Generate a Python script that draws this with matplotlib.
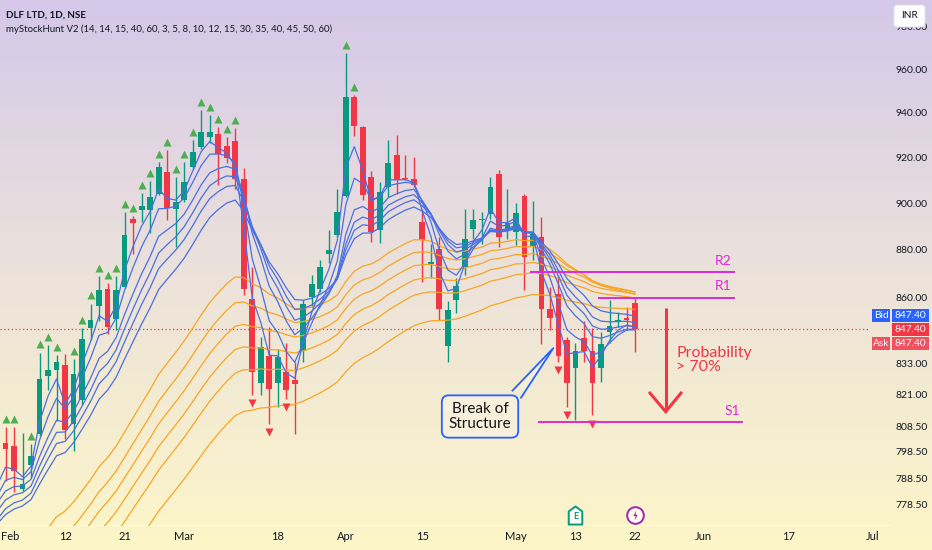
import numpy as np
import pandas as pd
import matplotlib
matplotlib.use("Agg")
import matplotlib.pyplot as plt
from matplotlib.transforms import offset_copy, blended_transform_factory, IdentityTransform
from matplotlib.patches import Rectangle, FancyBboxPatch, Polygon
from matplotlib.path import Path

plt.rcParams['font.family'] = ['Lato', 'DejaVu Sans']

# ---------------- data (bar index -1 .. 74; index 0 = 1 Feb 2024) ----------------
opens = [789, 802.5, 801, 784.7, 793.8, 805.8, 828.5, 830.8, 832.8, 809.7, 819, 847.8, 856.8, 864.2, 851.7,
         865, 893.8, 897.4, 897.4, 904.6, 914.2, 897.7, 901.7, 916.1, 924.9, 929.7, 931, 925.5, 928, 910.8,
         859.7, 825.7, 836.8, 825.7, 830, 827, 838.8, 860.7, 864.2, 878.5, 886.7, 903.6, 947.7, 934, 912,
         889.1, 907.6, 921.7, 911.5, 911, 892.4, 874.5, 880.9, 840.8, 859.6, 873, 889.4, 893.1, 895.9, 913.2,
         888.4, 888.1, 903.5, 881.9, 885.7, 855.9, 861.8, 842.9, 831.9, 843.9, 838.8, 831.9, 846.2, 850.3,
         852.1, 858.2]
highs = [806, 808.5, 808.5, 806, 802, 838, 841, 836.9, 837.6, 835.5, 848, 858, 869.5, 866.6, 869.5, 896.7,
         894.8, 904.9, 910.2, 918.6, 923.7, 912, 918.6, 928.4, 941.7, 939.4, 934.2, 929.7, 933.5, 915.7, 873.2,
         844.3, 848.4, 839.5, 841.8, 834.2, 859.3, 869.9, 876, 888.8, 906.8, 967.8, 948.7, 934.5, 914.6, 909.5,
         928.4, 930.5, 921.5, 920.7, 898.1, 883.1, 886, 859, 868.4, 898.1, 898.1, 896.6, 912, 915, 906.8, 900.5,
         904.6, 901.4, 894.5, 864.9, 869.9, 844.3, 841.8, 851, 847.8, 846.2, 859.3, 854.5, 856.5, 860.7]
lows = [787, 787.6, 783.5, 784, 789, 805, 823, 811, 804, 799.3, 817, 843, 851, 845.6, 847, 864.5, 878.8,
        892.4, 887.7, 904, 893, 881.6, 901, 915.5, 924, 926.7, 908.3, 917.9, 906.8, 861.4, 821, 821, 809.7,
        816.3, 819.6, 805.8, 834.2, 856.5, 862.8, 875, 886, 903, 930.2, 901.7, 883.8, 883.5, 903.2, 904.6,
        910.5, 907.6, 867, 868.4, 851.3, 834.2, 854.1, 869.7, 885.2, 883.1, 893.8, 881.6, 885.2, 882.3, 863.5,
        876, 841.5, 847, 834.2, 816.3, 811.3, 834.2, 813, 826.1, 841.8, 848.4, 847, 838.1]
closes = [802.5, 800, 791.5, 786.6, 797.4, 827.5, 830.8, 834.2, 807.4, 829.2, 843.6, 851.3, 863.5, 848.4,
          863.5, 886.7, 892.1, 899.2, 902.9, 916.4, 898.5, 901, 909.8, 923, 931.7, 932, 922.2, 920, 910.8,
          864.2, 830.2, 840.4, 823.5, 836.4, 823, 825.5, 857.6, 866, 873.2, 880.5, 896.6, 947.7, 934.5, 904.2,
          888.1, 905.3, 917.9, 910.5, 910.8, 908.3, 884.5, 875.5, 855.9, 855.4, 865.2, 885.2, 893.1, 893.8,
          907.6, 886, 892, 896.2, 877.6, 887.1, 855.9, 852.1, 836.5, 825.7, 838.5, 838.8, 825.7, 841.5, 848.8,
          851.3, 851.3, 847.4]
bar_index = list(range(-1, 75))

# moving-average ribbons: periods from the legend, start values read at the left edge
fast_periods = [3, 5, 8, 10, 12, 15]
fast_start = [786, 782, 779.4, 776.3, 773.2, 771.6]
slow_periods = [30, 35, 40, 45, 50, 60]
slow_start = [752, 742, 736, 729, 721, 709]

signal_up = [0, 1, 3, 4, 5, 6, 8, 9, 10, 11, 12, 13, 14, 15, 16, 17, 18, 19, 20, 21, 22, 23, 24, 25, 26, 27, 40, 41]
signal_down = [29, 31, 33, 65, 66, 69]

last_price = 847.40
levels = {"R2": 871.0, "R1": 860.1, "S1": 810.3}

price_ticks = [980, 960, 940, 920, 900, 880, 860, 833, 821, 808.5, 798.5, 788.5, 778.5]
date_ticks = [0, 7, 14, 21, 32, 40, 49, 60, 67, 74, 82, 92, 102]
date_labels = ["Feb", "12", "21", "Mar", "18", "Apr", "15", "May", "13", "22", "Jun", "17", "Jul"]

# ---------------- figure ----------------
W, H = 932, 550
fig = plt.figure(figsize=(W / 100, H / 100), dpi=100)

bg = fig.add_axes([0, 0, 1, 1], zorder=0)
stops = np.array([[213, 200, 233], [236, 226, 219], [253, 246, 199]]) / 255.0
pos = np.linspace(0, 1, H)
grad = np.stack([np.interp(pos, [0, 0.5, 1], stops[:, k]) for k in range(3)], axis=1)
grad = np.repeat(grad[:, None, :], 4, axis=1)
bg.imshow(grad, aspect='auto', extent=[0, 1, 0, 1])
bg.axis('off')

ax = fig.add_axes([0, 24 / H, 891 / W, 526 / H], zorder=1)
ax.patch.set_alpha(0)
ax.set_yscale('log')
for s in ax.spines.values():
    s.set_visible(False)

GREEN = '#089981'
RED = '#f23645'
BLUE = '#4a6fe3'
ORANGE = '#f6a623'
MAG = '#dc2ad8'

# current price dotted line
ax.axhline(last_price, xmin=0, xmax=870 / 891, color=RED, lw=0.9, ls=(0, (1, 2)), zorder=1)

# candles
for xi, o, h, l, c in zip(bar_index, opens, highs, lows, closes):
    col = GREEN if c >= o else RED
    ax.vlines(xi, l, h, color=col, lw=1.0, zorder=2)
    ax.bar(xi, max(abs(c - o), 0.45), bottom=min(o, c), width=0.68, color=col, lw=0, zorder=3)

# EMA ribbons
def ema(start, span):
    s = pd.Series([start] + closes[1:])
    return s.ewm(span=span, adjust=False).mean().to_numpy()

for p, st in zip(slow_periods, slow_start):
    ax.plot(bar_index, ema(st, p), color=ORANGE, lw=0.9, zorder=4)
for p, st in zip(fast_periods, fast_start):
    ax.plot(bar_index, ema(st, p), color=BLUE, lw=0.9, zorder=4)

# signal triangles
tr_up = offset_copy(ax.transData, fig=fig, x=0, y=5.8, units='points')
tr_dn = offset_copy(ax.transData, fig=fig, x=0, y=-5.8, units='points')
ax.plot(signal_up, [highs[i + 1] for i in signal_up], '^', color='#4caf50', ms=5.5, mec='none',
        transform=tr_up, zorder=5)
ax.plot(signal_down, [lows[i + 1] for i in signal_down], 'v', color=RED, ms=5.5, mec='none',
        transform=tr_dn, zorder=5)

# levels
ax.hlines(levels["R2"], 61.65, 85.75, color=MAG, lw=1.4, zorder=6)
ax.hlines(levels["R1"], 69.65, 85.75, color=MAG, lw=1.4, zorder=6)
ax.hlines(levels["S1"], 62.6, 86.66, color=MAG, lw=1.4, zorder=6)
ax.text(84.34, 875.7, "R2", color=MAG, fontsize=10, ha='center', va='center', zorder=6)
ax.text(84.34, 865.3, "R1", color=MAG, fontsize=10, ha='center', va='center', zorder=6)
ax.text(85.4, 814.7, "S1", color=MAG, fontsize=10, ha='center', va='center', zorder=6)

# arrow
ax.plot([77.6, 77.6], [856.1, 814.8], color=RED, lw=2.2, solid_capstyle='butt', zorder=6)
ax.plot([75.76, 77.6, 79.4], [821.8, 814.5, 821.8], color=RED, lw=2.2, solid_joinstyle='miter', zorder=6)
ax.text(78.82, 835.0, "Probability\n> 70%", color=RED, fontsize=11.5, ha='left', va='center',
        linespacing=1.05, zorder=6)

# callout
ax.text(55.78, 812.6, "Break of\nStructure", color='#151515', fontsize=11, ha='center', va='center',
        linespacing=1.05, zorder=7,
        bbox=dict(boxstyle='round,pad=0.45', fc=(1, 1, 1, 0.25), ec='#2962ff', lw=1.3))
tail = Polygon([(59.6, 822.8), (64.4, 839.8), (60.6, 820.0), (60.95, 823.2)], closed=True,
               fc='#f7efd6', ec='none', zorder=8)
ax.add_patch(tail)
ax.plot([59.6, 64.4, 60.6], [822.8, 839.8, 820.0], color='#2962ff', lw=1.3, zorder=8)

ax.set_xlim(-0.647, 104.09)
ax.set_ylim(770.9, 992.9)
ax.set_xticks([])
ax.set_yticks([])
ax.yaxis.set_minor_locator(matplotlib.ticker.NullLocator())

# price scale labels
bt = blended_transform_factory(ax.transAxes, ax.transData)
for p in price_ticks:
    ax.text(912 / 891, p, f"{p:.2f}", transform=bt, ha='center', va='center', fontsize=7.5,
            color='#131722', clip_on=False)

# time axis
tx = blended_transform_factory(ax.transData, ax.transAxes)
for xi, lab in zip(date_ticks, date_labels):
    if xi == 0:
        ax.text(-0.55, -11 / 526, lab, transform=tx, ha='left', va='center', fontsize=8,
                color='#131722', clip_on=False)
    else:
        ax.text(xi, -11 / 526, lab, transform=tx, ha='center', va='center', fontsize=8, color='#131722',
                clip_on=False)
fig.add_artist(Rectangle((0, 24), 891, 1, transform=IdentityTransform(), fc=(1, 1, 1, 0.5), ec='none'))

# event icons
house = Path([(-0.75, -1), (0.75, -1), (0.75, 0.45), (0, 1), (-0.75, 0.45), (-0.75, -1)],
             [Path.MOVETO, Path.LINETO, Path.LINETO, Path.LINETO, Path.LINETO, Path.CLOSEPOLY])
bolt = Path([(0.15, 1), (-0.45, -0.1), (0.0, -0.1), (-0.15, -1), (0.45, 0.15), (0.0, 0.15), (0.15, 1)],
            [Path.MOVETO] + [Path.LINETO] * 5 + [Path.CLOSEPOLY])
yic = 11 / 526
ax.plot([67], [yic], marker=house, ms=13, mfc='#fdfbf0', mec=GREEN, mew=1.4, transform=tx, clip_on=False,
        zorder=6)
ax.text(67, yic - 0.002, "E", color=GREEN, fontsize=6.5, fontweight='bold', ha='center', va='center',
        transform=tx, clip_on=False, zorder=7)
ax.plot([74], [yic], marker='o', ms=12, mfc='#fdfbf0', mec='#9c27b0', mew=1.4, transform=tx, clip_on=False,
        zorder=6)
ax.plot([74], [yic], marker=bolt, ms=7, mfc='#9c27b0', mec='none', transform=tx, clip_on=False, zorder=7)

# bid / last / ask tags
yc = ax.transData.transform((0, last_price))[1]
def tag(x0, x1, ymid, color, text, size=7.3):
    fig.add_artist(Rectangle((x0, ymid - 6.5), x1 - x0, 13, transform=IdentityTransform(), fc=color,
                             ec='none', zorder=10))
    fig.text((x0 + x1) / 2, ymid, text, transform=IdentityTransform(), ha='center', va='center',
             fontsize=size, color='white', zorder=11)

tag(872, 890, yc + 14, '#2962ff', "Bid")
tag(891.5, 929, yc + 14, '#2962ff', f"{last_price:.2f}")
tag(891.5, 929, yc, RED, f"{last_price:.2f}")
tag(872, 890, yc - 14, '#f0505f', "Ask")
tag(891.5, 929, yc - 14, '#f0505f', f"{last_price:.2f}")

# currency button
fig.add_artist(FancyBboxPatch((894, H - 27), 31, 22, boxstyle='round,pad=0,rounding_size=3',
                              transform=IdentityTransform(), fc='white', ec='#e0e3eb', lw=0.8, zorder=12))
fig.text(909.5, H - 16, "INR", transform=IdentityTransform(), ha='center', va='center', fontsize=7.3,
         color='#131722', zorder=13)

# header
fig.text(6 / W, 1 - 15 / H, "DLF LTD, 1D, NSE", fontsize=7.1, fontweight='bold', color='#131722',
         ha='left', va='center')
fig.text(6 / W, 1 - 29.5 / H, "myStockHunt V2 (14, 14, 15, 40, 60, 3, 5, 8, 10, 12, 15, 30, 35, 40, 45, 50, 60)",
         fontsize=6.9, color='#131722', ha='left', va='center')

fig.savefig("out.png", dpi=100)
